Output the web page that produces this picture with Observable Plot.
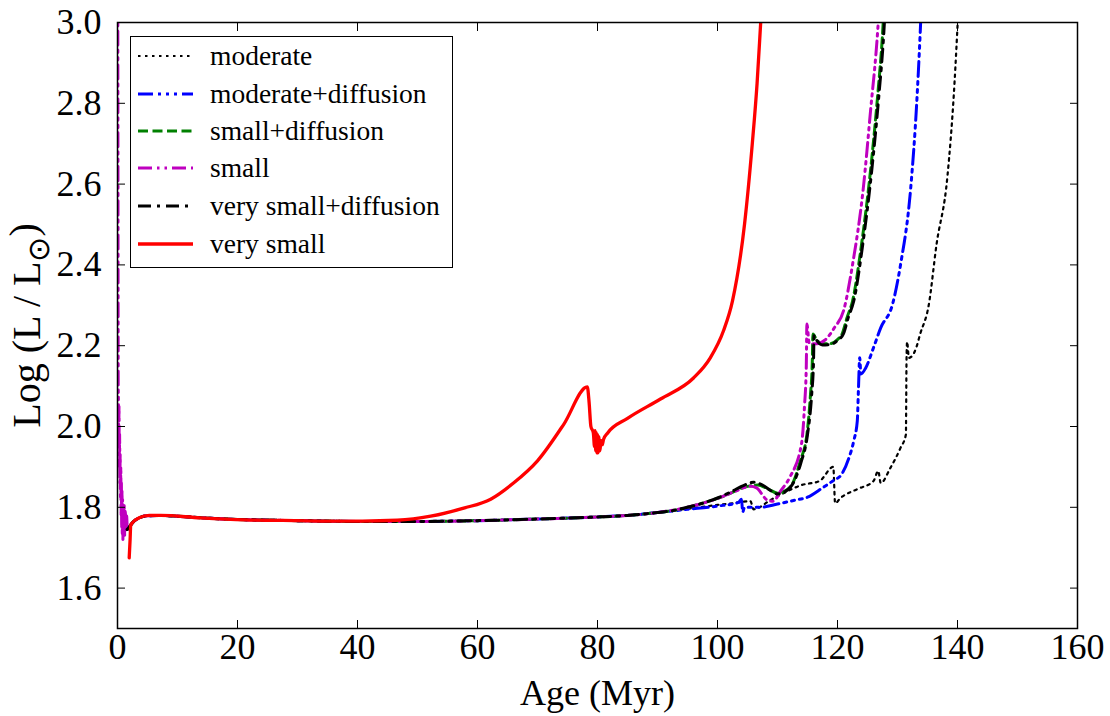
<!DOCTYPE html>
<html><head><meta charset="utf-8">
<script src="https://cdn.jsdelivr.net/npm/d3@7"></script>
<script src="https://cdn.jsdelivr.net/npm/@observablehq/plot@0.6"></script>
<style>
body{margin:0;background:#fff;}
#wrap{position:relative;width:1110px;height:716px;font-family:"Liberation Serif",serif;}
#legend{position:absolute;left:130px;top:36px;width:323px;height:232px;border:1.5px solid #000;background:#fff;box-sizing:border-box;}
.row{position:absolute;left:0;height:30px;display:flex;align-items:center;font-size:27.5px;color:#000;white-space:nowrap;}
.row svg{margin-left:7px;margin-right:17px;}
</style>
</head><body>
<div id="wrap"></div>
<script>
// ---- axis ticks ----
const xTicks = [0, 20, 40, 60, 80, 100, 120, 140, 160];
const yTicks = [1.6, 1.8, 2.0, 2.2, 2.4, 2.6, 2.8, 3.0];

// ---- series (age in Myr, log L/Lsun) ----
const names = ["moderate", "moderate+diffusion", "small+diffusion", "small", "very small+diffusion", "very small"];
const colors = ["#000000", "#0000ff", "#008000", "#bf00bf", "#000000", "#ff0000"];
const dashes = ["2.5,4.5", "15,5,3,5,3,5,3,5", "10,4.5", "14,5,2.5,5,2.5,5", "13,6,3,6", null];
const widths = [2.2, 3, 3, 3, 3, 3.3];

// shared pre-MS spike (only visible for "small") and main-sequence track
const preMS = [[0.02,3.4],[0.05,3.0],[0.08,2.6],[0.1,2.3],[0.12,2.1],[0.15,2.07],[0.2,1.95],[0.25,2.05],[0.3,1.9],[0.35,1.98],[0.4,1.86],[0.45,1.93],[0.5,1.82],[0.55,1.9],[0.6,1.78],[0.65,1.86],[0.7,1.75],[0.75,1.84],[0.8,1.73],[0.85,1.82],[0.9,1.72],[0.95,1.8],[1.0,1.74],[1.1,1.81],[1.2,1.73],[1.3,1.79],[1.4,1.75],[1.5,1.78],[1.6,1.755]];
const mainSeq = [[1.6,1.745],[2.0,1.752],[2.5,1.762],[3.5,1.773],[5,1.779],[7,1.780],[10,1.778],[14,1.774],[20,1.770],[30,1.767],[40,1.765],[50,1.765],[60,1.767],[70,1.771],[80,1.776],[85,1.780],[90,1.787]];

const moderateLate = [[92,1.791],[97,1.800],[100,1.806],[102.5,1.810],[105.5,1.815],[106,1.795],[107,1.800],[108.5,1.815],[111,1.835],[114,1.855],[117,1.865],[119.3,1.900],[119.6,1.810],[120.5,1.823],[123.3,1.845],[126,1.865],[126.8,1.890],[127.2,1.860],[128.8,1.897],[130.5,1.947],[131.4,1.980],[131.5,2.160],[131.6,2.210],[131.9,2.170],[133,2.190],[133.8,2.230],[135.2,2.300],[136.5,2.450],[138.3,2.616],[139.5,2.850],[140,2.990],[140.2,3.050]];
const modDiffLate = [[95,1.795],[100,1.803],[103.5,1.812],[104,1.820],[104.2,1.788],[104.5,1.800],[107,1.800],[110,1.808],[113,1.818],[115,1.825],[117.5,1.848],[119.5,1.868],[120.5,1.878],[121.9,1.922],[122.7,1.964],[123.3,2.014],[123.5,2.096],[123.7,2.170],[123.9,2.130],[124.7,2.145],[126,2.195],[127.2,2.244],[129.2,2.304],[130.5,2.400],[132.2,2.590],[133.2,2.800],[133.8,2.980],[134,3.050]];
const smallDiffLate = [[92.2,1.791],[95,1.800],[97.7,1.811],[100,1.822],[102.2,1.835],[104.5,1.850],[106.7,1.855],[108.5,1.845],[110,1.835],[111.2,1.840],[112.7,1.865],[113.8,1.915],[114.9,1.980],[115.5,2.080],[115.8,2.160],[115.9,2.229],[116.5,2.215],[117.5,2.205],[118.8,2.205],[120,2.215],[120.8,2.230],[121.6,2.270],[122.5,2.310],[124,2.450],[125.5,2.633],[126.7,2.820],[127.5,2.970],[127.8,3.050]];
const smallLate = [[95,1.800],[100,1.822],[103,1.840],[105.5,1.852],[106.5,1.848],[108.3,1.818],[109.3,1.815],[110.5,1.840],[112,1.873],[114,1.957],[114.5,2.050],[114.8,2.150],[114.9,2.254],[115.3,2.205],[116.5,2.205],[118,2.215],[119.5,2.245],[121,2.286],[122.5,2.400],[124.3,2.590],[125.5,2.780],[126.7,2.980],[127,3.050]];
const vSmallDiffLate = [[92.2,1.791],[95,1.800],[97.7,1.811],[100,1.823],[102.2,1.838],[104.5,1.855],[106,1.862],[107.5,1.855],[109,1.840],[110,1.833],[111.2,1.838],[112.7,1.862],[113.9,1.910],[115,1.980],[115.7,2.080],[116,2.160],[116.1,2.225],[116.6,2.212],[117.5,2.202],[118.8,2.203],[120,2.213],[121,2.230],[121.8,2.270],[122.7,2.310],[124.2,2.450],[125.7,2.633],[126.9,2.820],[127.7,2.970],[128,3.050]];
const verySmall = [[1.95,1.675],[2.1,1.72],[2.2,1.755],[2.5,1.762],[3.6,1.774],[5.3,1.780],[7.2,1.780],[13.8,1.774],[21.3,1.769],[30,1.767],[35.5,1.766],[40.8,1.766],[46.6,1.768],[52.2,1.778],[57.7,1.798],[62.2,1.820],[66,1.860],[70,1.915],[74.4,2.006],[78.3,2.098],[78.6,2.060],[78.9,2.000],[79.3,1.985],[79.5,1.950],[79.6,1.990],[79.7,1.940],[79.8,1.985],[79.9,1.935],[80.0,1.980],[80.1,1.935],[80.2,1.975],[80.4,1.940],[80.6,1.965],[80.8,1.955],[81.0,1.968],[81.7,1.984],[85,2.020],[90.5,2.068],[96,2.120],[98.8,2.170],[101,2.237],[102.5,2.311],[104.5,2.500],[105.8,2.700],[106.6,2.850],[107.2,3.000],[107.4,3.050]];

const seriesData = [
  mainSeq.concat(moderateLate),
  mainSeq.concat(modDiffLate),
  mainSeq.concat(smallDiffLate),
  preMS.concat(mainSeq, smallLate),
  mainSeq.concat(vSmallDiffLate),
  verySmall
];

const FONT = "Liberation Serif";
const lineMarks = seriesData.map((data, i) => Plot.line(data, {
  x: d => d[0], y: d => d[1], stroke: colors[i], strokeWidth: widths[i],
  strokeDasharray: dashes[i] || undefined, clip: true, curve: "monotone-x"
}));

const chart = Plot.plot({
  width: 1110, height: 716,
  marginLeft: 117, marginRight: 33, marginTop: 22, marginBottom: 88,
  style: {fontFamily: FONT, background: "#fff", color: "#000"},
  x: {domain: [0, 160]},
  y: {domain: [1.5, 3.0]},
  marks: [
    ...lineMarks,
    Plot.frame({stroke: "#000", strokeWidth: 1.5}),
    // inward ticks on all four sides
    Plot.axisX({anchor: "bottom", ticks: xTicks, tickSize: 8, dy: -8, fill: "none", label: null}),
    Plot.axisX({anchor: "top", ticks: xTicks, tickSize: 8, dy: 8, fill: "none", label: null}),
    Plot.axisY({anchor: "left", ticks: yTicks, tickSize: 8, dx: 8, fill: "none", label: null}),
    Plot.axisY({anchor: "right", ticks: yTicks, tickSize: 8, dx: -8, fill: "none", label: null}),
    // tick labels + axis titles
    Plot.axisX({anchor: "bottom", ticks: xTicks, tickSize: 0, tickPadding: 5, fontSize: 36, fontFamily: FONT,
      label: "Age (Myr)", labelAnchor: "center", labelArrow: "none", labelOffset: 76}),
    Plot.axisY({anchor: "left", ticks: yTicks, tickSize: 0, tickPadding: 16, fontSize: 36, fontFamily: FONT,
      tickFormat: d3.format(".1f")}),
    Plot.axisY({anchor: "left", ticks: [], tickSize: 0, fontSize: 40, fontFamily: FONT,
      label: "Log (L / L\u2299)", labelAnchor: "center", labelArrow: "none", labelOffset: 106})
  ]
});

// subscript sun symbol in y label
chart.querySelectorAll("text").forEach(t => {
  if (t.textContent.includes("\u2299")) {
    const ns = "http://www.w3.org/2000/svg";
    t.textContent = "Log (L / L";
    const s = document.createElementNS(ns, "tspan");
    s.setAttribute("dy", "0.3em"); s.setAttribute("font-size", "0.75em"); s.textContent = "\u2299";
    const c = document.createElementNS(ns, "tspan");
    c.setAttribute("dy", "-0.3em"); c.textContent = ")";
    t.appendChild(s); t.appendChild(c);
  }
});

const wrap = document.getElementById("wrap");
wrap.appendChild(chart);

// legend
const legend = document.createElement("div");
legend.id = "legend";
const rowTops = [19, 57, 94, 131, 169, 207];
names.forEach((name, i) => {
  const row = document.createElement("div");
  row.className = "row";
  row.style.top = (rowTops[i] - 15) + "px";
  const dash = dashes[i] ? ` stroke-dasharray="${dashes[i]}"` : "";
  row.innerHTML = `<svg width="55" height="10"><line x1="0" y1="5" x2="55" y2="5" stroke="${colors[i]}" stroke-width="${widths[i]}"${dash}/></svg><span>${name}</span>`;
  legend.appendChild(row);
});
wrap.appendChild(legend);
</script>
</body></html>
